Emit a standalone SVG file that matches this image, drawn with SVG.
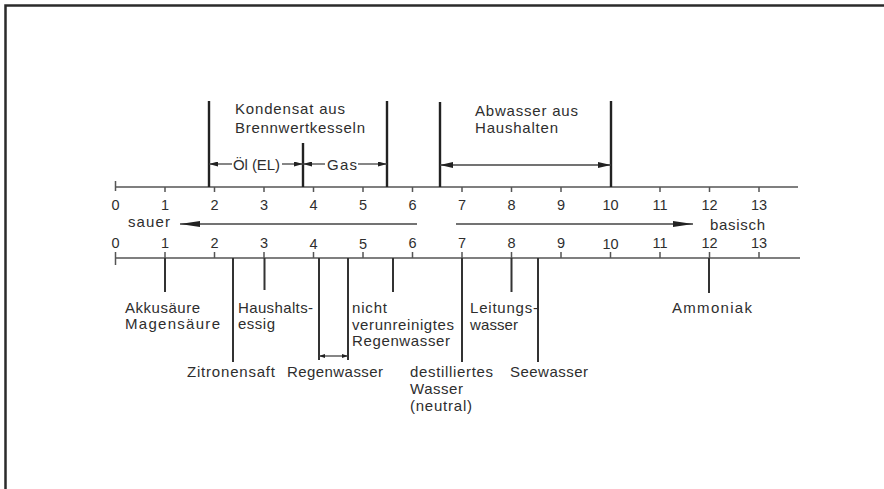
<svg xmlns="http://www.w3.org/2000/svg" width="884" height="489" viewBox="0 0 884 489">
  <style>
    .frame { fill: none; stroke: #2b2b2b; stroke-width: 2.5; }
    .axis { fill: none; stroke: #555; stroke-width: 1.5; }
    .tick { fill: none; stroke: #555; stroke-width: 1.5; }
    .bar { fill: none; stroke: #222; stroke-width: 2.4; }
    .lead { fill: none; stroke: #333; stroke-width: 2; }
    .dim { fill: none; stroke: #444; stroke-width: 1.3; }
    .lbl { font-family: "Liberation Sans", Arial, sans-serif; font-size: 15px; fill: #2e2e2e; }
    .num { font-family: "Liberation Sans", Arial, sans-serif; font-size: 14.5px; fill: #2e2e2e; text-anchor: middle; }
  </style>
  <defs>
    <marker id="ahBig" viewBox="0 0 20 6" refX="20" refY="3" markerWidth="20" markerHeight="6" markerUnits="userSpaceOnUse" orient="auto-start-reverse">
      <path d="M0,0 L20,3 L0,6 z" fill="#222"/>
    </marker>
    <marker id="ahMid" viewBox="0 0 13 6" refX="13" refY="3" markerWidth="13" markerHeight="6" markerUnits="userSpaceOnUse" orient="auto-start-reverse">
      <path d="M0,0 L13,3 L0,6 z" fill="#222"/>
    </marker>
    <marker id="ahSmall" viewBox="0 0 9 5" refX="9" refY="2.5" markerWidth="9" markerHeight="5" markerUnits="userSpaceOnUse" orient="auto-start-reverse">
      <path d="M0,0 L9,2.5 L0,5 z" fill="#222"/>
    </marker>
    <marker id="ahTiny" viewBox="0 0 6 4" refX="6" refY="2" markerWidth="6" markerHeight="4" markerUnits="userSpaceOnUse" orient="auto-start-reverse">
      <path d="M0,0 L6,2 L0,4 z" fill="#222"/>
    </marker>
  </defs>

  <rect width="884" height="489" fill="#fff"/>
  <path class="frame" d="M5.5,489 V5.5 H884"/>

  <!-- upper pH scale -->
  <g id="scale-upper">
    <path class="axis" d="M115.5,187 H798"/>
    <path class="tick" d="M115.5,181 V191 M165,187 V192 M214.5,187 V192 M264,187 V192 M313.5,187 V192 M363,187 V192 M412.5,187 V192 M462,187 V192 M511.5,187 V192 M561,187 V192 M660,187 V192 M709.5,187 V192 M759,187 V192"/>
    <text class="num" x="115.5" y="210">0</text>
    <text class="num" x="165" y="210">1</text>
    <text class="num" x="214.5" y="210">2</text>
    <text class="num" x="264" y="210">3</text>
    <text class="num" x="313.5" y="210">4</text>
    <text class="num" x="363" y="210">5</text>
    <text class="num" x="412.5" y="210">6</text>
    <text class="num" x="462" y="210">7</text>
    <text class="num" x="511.5" y="210">8</text>
    <text class="num" x="561" y="210">9</text>
    <text class="num" x="610.5" y="210">10</text>
    <text class="num" x="660" y="210">11</text>
    <text class="num" x="709.5" y="210">12</text>
    <text class="num" x="759" y="210">13</text>
  </g>

  <!-- lower pH scale -->
  <g id="scale-lower">
    <path class="axis" d="M115.5,258 H800"/>
    <path class="tick" d="M115.5,252 V265 M165,252 V258 M214.5,252 V258 M264,252 V258 M313.5,252 V258 M363,252 V258 M412.5,252 V258 M462,252 V258 M511.5,252 V258 M561,252 V258 M610.5,252 V258 M660,252 V258 M709.5,252 V258 M759,252 V258"/>
    <text class="num" x="115.5" y="248">0</text>
    <text class="num" x="165" y="248">1</text>
    <text class="num" x="214.5" y="248">2</text>
    <text class="num" x="264" y="248">3</text>
    <text class="num" x="313.5" y="249">4</text>
    <text class="num" x="363" y="249">5</text>
    <text class="num" x="412.5" y="248">6</text>
    <text class="num" x="462" y="248">7</text>
    <text class="num" x="511.5" y="248">8</text>
    <text class="num" x="561" y="248">9</text>
    <text class="num" x="610.5" y="249">10</text>
    <text class="num" x="660" y="248">11</text>
    <text class="num" x="709.5" y="248">12</text>
    <text class="num" x="759" y="248">13</text>
  </g>

  <!-- connectors: range bars, leader lines and arrows -->
  <g id="connectors">
    <!-- range bars above the upper scale -->
    <path class="bar" d="M209,101 V187 M303,143 V187 M387,101 V187 M440,102 V187 M611,101 V187"/>
    <!-- Öl (EL) / Gas ranges -->
    <path class="dim" d="M232,164 H209" marker-end="url(#ahSmall)"/>
    <path class="dim" d="M282,164 H303" marker-end="url(#ahSmall)"/>
    <path class="dim" d="M325,164 H303" marker-end="url(#ahSmall)"/>
    <path class="dim" d="M358,164 H387" marker-end="url(#ahSmall)"/>
    <!-- Abwasser range -->
    <path class="dim" d="M440,165 H611" marker-start="url(#ahMid)" marker-end="url(#ahMid)"/>
    <!-- acid / base direction arrows -->
    <path class="dim" d="M417,224 H180" marker-end="url(#ahBig)"/>
    <path class="dim" d="M456,224 H693" marker-end="url(#ahBig)"/>
    <!-- leader lines below the lower scale -->
    <path class="lead" d="M165,258 V292 M233,258 V362 M264.5,258 V290 M319,258 V360 M348,258 V360 M393,258 V292 M462,258 V362 M511.5,258 V292 M538,258 V362 M709,258 V293"/>
    <!-- Regenwasser range -->
    <path class="dim" d="M319,356 H348" marker-start="url(#ahTiny)" marker-end="url(#ahTiny)"/>
  </g>

  <!-- labels above the scale -->
  <g id="kondensat">
    <text class="lbl" x="235" y="114" textLength="110">Kondensat aus</text>
    <text class="lbl" x="235" y="133" textLength="130">Brennwertkesseln</text>
  </g>
  <g id="oel">
    <text class="lbl" x="233" y="170" textLength="47">Öl (EL)</text>
  </g>
  <g id="gas">
    <text class="lbl" x="327" y="170" textLength="30">Gas</text>
  </g>
  <g id="abwasser">
    <text class="lbl" x="475" y="116" textLength="103">Abwasser aus</text>
    <text class="lbl" x="475" y="133" textLength="83">Haushalten</text>
  </g>
  <g id="sauer">
    <text class="lbl" x="128" y="227" textLength="42">sauer</text>
  </g>
  <g id="basisch">
    <text class="lbl" x="710" y="230" textLength="55">basisch</text>
  </g>

  <!-- substances below the scale -->
  <g id="akkusaeure">
    <text class="lbl" x="125" y="313" textLength="75">Akkusäure</text>
    <text class="lbl" x="125" y="329" textLength="95">Magensäure</text>
  </g>
  <g id="zitronensaft">
    <text class="lbl" x="187" y="377" textLength="88">Zitronensaft</text>
  </g>
  <g id="haushaltsessig">
    <text class="lbl" x="238" y="313" textLength="75">Haushalts-</text>
    <text class="lbl" x="238" y="329" textLength="37">essig</text>
  </g>
  <g id="regenwasser">
    <text class="lbl" x="287" y="377" textLength="96">Regenwasser</text>
  </g>
  <g id="regenwasser-rein">
    <text class="lbl" x="352" y="313" textLength="35">nicht</text>
    <text class="lbl" x="352" y="330" textLength="102">verunreinigtes</text>
    <text class="lbl" x="352" y="346" textLength="98">Regenwasser</text>
  </g>
  <g id="destilliert">
    <text class="lbl" x="410" y="377" textLength="83">destilliertes</text>
    <text class="lbl" x="410" y="394" textLength="53">Wasser</text>
    <text class="lbl" x="410" y="411" textLength="62">(neutral)</text>
  </g>
  <g id="leitungswasser">
    <text class="lbl" x="470" y="313" textLength="68">Leitungs-</text>
    <text class="lbl" x="470" y="330" textLength="48">wasser</text>
  </g>
  <g id="seewasser">
    <text class="lbl" x="510" y="377" textLength="78">Seewasser</text>
  </g>
  <g id="ammoniak">
    <text class="lbl" x="672" y="313" textLength="80">Ammoniak</text>
  </g>
</svg>
